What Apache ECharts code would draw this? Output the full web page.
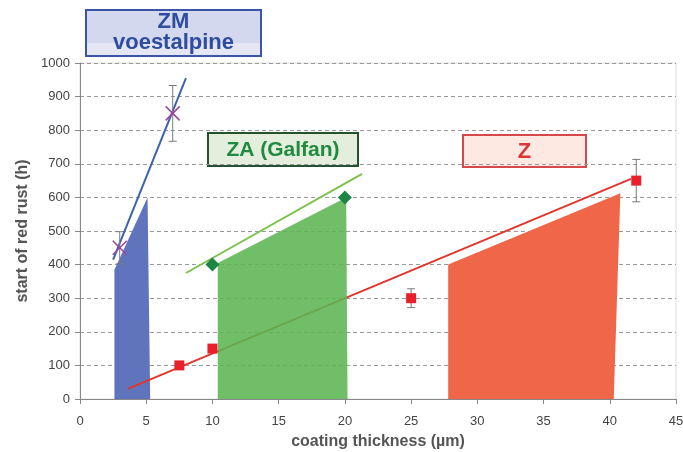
<!DOCTYPE html>
<html>
<head>
<meta charset="utf-8">
<script src="https://cdn.jsdelivr.net/npm/echarts@6/dist/echarts.min.js"></script>
<style>
  html, body { margin: 0; padding: 0; background: #fff; }
  #chart { width: 683px; height: 452px; }
</style>
</head>
<body>
<div id="chart"></div>
<script>
// Axis ticks
const xTicks = [0, 5, 10, 15, 20, 25, 30, 35, 40, 45];
const yTicks = [0, 100, 200, 300, 400, 500, 600, 700, 800, 900, 1000];

// Typical ranges (coating thickness vs. hours to red rust) as shaded bands
const zmBand = [[2.6, 0], [2.6, 385], [5.1, 600], [5.3, 0]];
const zaBand = [[10.4, 0], [10.4, 405], [20.1, 600], [20.2, 0]];
const zBand  = [[27.8, 0], [27.8, 400], [40.8, 612], [40.3, 0]];

// Measured points: [thickness, hours]
const zmPoints = [[3, 450], [7, 850]];
const zaPoints = [[10, 400], [20, 600]];
const zPoints  = [[7.5, 100], [10, 150], [25, 300], [42, 650]];

// Error bars: [thickness, hours, +/- hours]
const zmErrors = [[3, 450, 48], [7, 850, 83]];
const zErrors  = [[25, 300, 28], [42, 650, 63]];

// Trend lines (start and end points)
const zmTrend = [[2.5, 415], [8, 955]];
const zaTrend = [[8, 375], [21.3, 670]];
const zTrend  = [[3.6, 30], [41.6, 655]];

const chart = echarts.init(document.getElementById('chart'));

function bandSeries(points, color, z, opacity) {
  return {
    type: 'custom',
    data: points,
    z: z,
    silent: true,
    renderItem: function (params, api) {
      if (params.dataIndex !== 0) return;
      return {
        type: 'polygon',
        shape: { points: points.map(function (p) { return api.coord(p); }) },
        style: { fill: color, opacity: opacity }
      };
    }
  };
}

function errorSeries(data) {
  return {
    type: 'custom',
    data: data,
    z: 5,
    silent: true,
    renderItem: function (params, api) {
      const x = api.value(0), y = api.value(1), e = api.value(2);
      const top = api.coord([x, y + e]);
      const bot = api.coord([x, y - e]);
      const style = { stroke: '#7a7a7a', lineWidth: 1 };
      return {
        type: 'group',
        children: [
          { type: 'line', shape: { x1: top[0], y1: top[1], x2: bot[0], y2: bot[1] }, style: style },
          { type: 'line', shape: { x1: top[0] - 4, y1: top[1], x2: top[0] + 4, y2: top[1] }, style: style },
          { type: 'line', shape: { x1: bot[0] - 4, y1: bot[1], x2: bot[0] + 4, y2: bot[1] }, style: style }
        ]
      };
    }
  };
}

function trendSeries(points, color, z) {
  return {
    type: 'line',
    data: points,
    z: z,
    symbol: 'none',
    silent: true,
    lineStyle: { color: color, width: 2 }
  };
}

const crossSeries = {
  type: 'custom',
  data: zmPoints,
  z: 7,
  silent: true,
  renderItem: function (params, api) {
    const c = api.coord([api.value(0), api.value(1)]);
    const h = 7;
    const style = { stroke: '#9a4a9e', lineWidth: 1.6 };
    return {
      type: 'group',
      children: [
        { type: 'line', shape: { x1: c[0] - h, y1: c[1] - h, x2: c[0] + h, y2: c[1] + h }, style: style },
        { type: 'line', shape: { x1: c[0] - h, y1: c[1] + h, x2: c[0] + h, y2: c[1] - h }, style: style }
      ]
    };
  }
};

const tickFont = { color: '#444', fontSize: 13, fontFamily: 'Liberation Sans, Arial, sans-serif' };
const titleFont = { color: '#555', fontSize: 16, fontWeight: 'bold', fontFamily: 'Liberation Sans, Arial, sans-serif' };

chart.setOption({
  animation: false,
  backgroundColor: '#fff',
  grid: {
    left: 80, right: 7, top: 63, bottom: 53,
    outerBoundsMode: 'none',
    containLabel: false,
    show: true, borderColor: '#dcdcdc', borderWidth: 1
  },
  xAxis: {
    type: 'value',
    min: xTicks[0], max: xTicks[xTicks.length - 1], interval: 5,
    name: 'coating thickness (µm)',
    nameLocation: 'middle',
    nameGap: 35,
    nameTextStyle: titleFont,
    axisLine: { lineStyle: { color: '#888', width: 1 } },
    axisTick: { inside: false, length: 5, lineStyle: { color: '#888' } },
    axisLabel: Object.assign({ margin: 16, formatter: function (v) { return String(v); } }, tickFont),
    splitLine: { show: false }
  },
  yAxis: {
    type: 'value',
    min: yTicks[0], max: yTicks[yTicks.length - 1], interval: 100,
    name: 'start of red rust (h)',
    nameLocation: 'middle',
    nameGap: 45,
    nameTextStyle: titleFont,
    axisLine: { show: true, lineStyle: { color: '#888', width: 1 } },
    axisTick: { show: true, inside: false, length: 5, lineStyle: { color: '#888' } },
    axisLabel: Object.assign({ margin: 10, formatter: function (v) { return String(v); } }, tickFont),
    splitLine: { show: true, lineStyle: { color: '#9a9a9a', type: [4, 3], width: 1 } }
  },
  series: [
    bandSeries(zmBand, '#5f74bd', 1, 1),
    bandSeries(zBand, '#ef6649', 1, 1),
    trendSeries(zTrend, '#e0362c', 2),
    bandSeries(zaBand, '#5cb552', 3, 0.88),
    trendSeries(zmTrend, '#3d63ad', 4),
    trendSeries(zaTrend, '#7cc24e', 4),
    errorSeries(zmErrors),
    errorSeries(zErrors),
    crossSeries,
    {
      type: 'scatter', data: zaPoints, z: 7, silent: true,
      symbol: 'diamond', symbolSize: 14,
      itemStyle: { color: '#1e8544', opacity: 1 }
    },
    {
      type: 'scatter', data: zPoints, z: 7, silent: true,
      symbol: 'rect', symbolSize: 10,
      itemStyle: { color: '#e8202a', opacity: 1 }
    }
  ],
  graphic: [
    {
      type: 'group', left: 85, top: 9,
      children: [
        {
          type: 'rect', shape: { x: 0, y: 0, width: 175, height: 46 },
          style: {
            fill: {
              type: 'linear', x: 0, y: 0, x2: 0, y2: 1,
              colorStops: [
                { offset: 0, color: '#d4d8ef' },
                { offset: 0.7, color: '#d4d8ef' },
                { offset: 0.72, color: '#e4e6f4' },
                { offset: 1, color: '#e4e6f4' }
              ]
            },
            stroke: '#3a55a5', lineWidth: 2
          }
        },
        {
          type: 'text', x: 87.5, y: 12,
          style: { text: 'ZM', fill: '#2f4d9e', font: 'bold 22px Liberation Sans, Arial, sans-serif', align: 'center', verticalAlign: 'middle' }
        },
        {
          type: 'text', x: 87.5, y: 33,
          style: { text: 'voestalpine', fill: '#2f4d9e', font: 'bold 22px Liberation Sans, Arial, sans-serif', align: 'center', verticalAlign: 'middle' }
        }
      ]
    },
    {
      type: 'group', left: 207, top: 132,
      children: [
        {
          type: 'rect', shape: { x: 0, y: 0, width: 150, height: 33 },
          style: { fill: '#e3efdc', stroke: '#27502f', lineWidth: 2 }
        },
        {
          type: 'text', x: 75, y: 17,
          style: { text: 'ZA (Galfan)', fill: '#1f8a40', font: 'bold 21px Liberation Sans, Arial, sans-serif', align: 'center', verticalAlign: 'middle' }
        }
      ]
    },
    {
      type: 'group', left: 462, top: 134,
      children: [
        {
          type: 'rect', shape: { x: 0, y: 0, width: 123, height: 32 },
          style: { fill: '#fde9e2', stroke: '#d8484b', lineWidth: 2 }
        },
        {
          type: 'text', x: 61.5, y: 16.5,
          style: { text: 'Z', fill: '#dc3535', font: 'bold 22px Liberation Sans, Arial, sans-serif', align: 'center', verticalAlign: 'middle' }
        }
      ]
    }
  ]
});
</script>
</body>
</html>
